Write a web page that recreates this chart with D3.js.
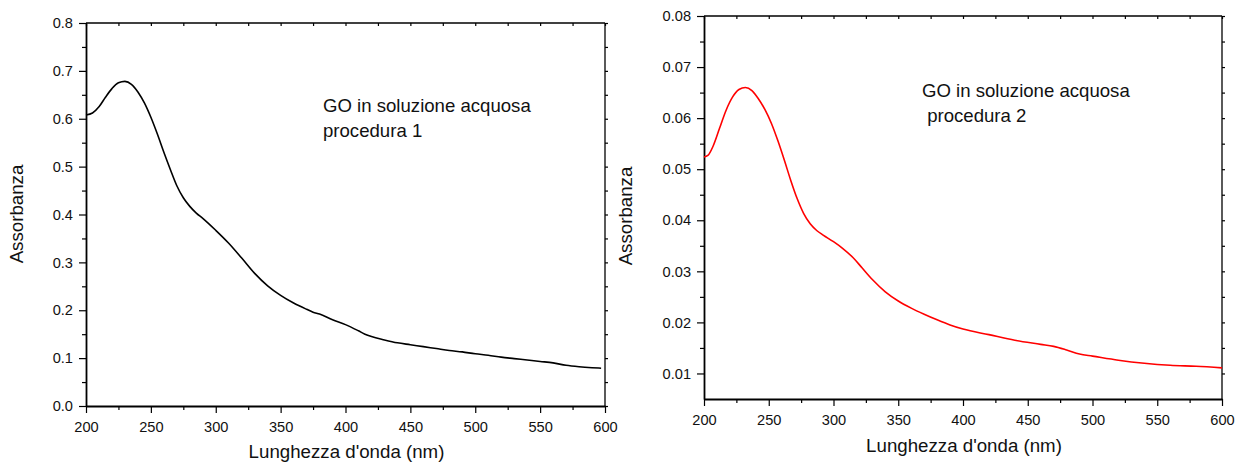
<!DOCTYPE html>
<html><head><meta charset="utf-8">
<script src="https://cdn.jsdelivr.net/npm/d3@7"></script>
<style>body{margin:0;background:#fff}svg{display:block;font-family:"Liberation Sans",Arial,sans-serif}</style>
</head><body><svg id="c" width="1238" height="463"></svg>
<script>
const wl1 = [200,205,210,215,220,225,230,235,240,245,250,255,260,265,270,275,280,285,290,300,310,320,330,340,350,360,370,375,380,390,400,410,415,420,430,440,450,460,470,480,490,500,510,520,530,540,550,560,570,580,590,597];
const abs1 = [0.608,0.612,0.625,0.645,0.663,0.675,0.678,0.672,0.656,0.633,0.603,0.568,0.530,0.494,0.460,0.435,0.417,0.403,0.392,0.367,0.340,0.309,0.277,0.251,0.231,0.215,0.202,0.196,0.192,0.180,0.170,0.157,0.150,0.145,0.138,0.132,0.128,0.124,0.120,0.116,0.113,0.109,0.106,0.102,0.099,0.096,0.093,0.090,0.085,0.082,0.080,0.079];
const wl2 = [200,203,207,212,217,222,227,232,237,242,247,252,257,262,267,272,277,282,287,292,300,307,315,322,330,340,350,360,370,380,390,400,420,440,460,470,480,490,500,520,540,560,580,600];
const abs2 = [0.0524,0.0527,0.0545,0.0580,0.0615,0.0641,0.0656,0.0660,0.0654,0.0638,0.0617,0.0590,0.0556,0.0518,0.0478,0.0442,0.0413,0.0393,0.0380,0.0371,0.0358,0.0345,0.0327,0.0307,0.0284,0.0260,0.0242,0.0228,0.0216,0.0205,0.0195,0.0187,0.0176,0.0165,0.0157,0.0153,0.0146,0.0138,0.0134,0.0126,0.0120,0.0116,0.0114,0.0111];
const xTicks = [200,250,300,350,400,450,500,550,600];
const yTicks1 = [0.0,0.1,0.2,0.3,0.4,0.5,0.6,0.7,0.8];
const yTicks2 = [0.01,0.02,0.03,0.04,0.05,0.06,0.07,0.08];
const xLabel = "Lunghezza d'onda (nm)";
const yLabel = "Assorbanza";
const note1 = ["GO in soluzione acquosa","procedura 1"];
const note2 = ["GO in soluzione acquosa"," procedura 2"];

const svg = d3.select("#c");
const FONT = "Liberation Sans, Arial, sans-serif";

function panel(o){
  const g = svg.append("g");
  const x = d3.scaleLinear().domain([200,600]).range([o.x0,o.x1]);
  const y = d3.scaleLinear().domain(o.yDom).range([o.y1,o.y0]);
  const minorX = d3.range(225,600,50);
  // top & right lines with small ticks
  g.append("line").attr("x1",o.x0).attr("x2",o.x1).attr("y1",o.y0).attr("y2",o.y0).attr("stroke","#000").attr("stroke-width",1.3);
  g.append("line").attr("x1",o.x1).attr("x2",o.x1).attr("y1",o.y0).attr("y2",o.y1).attr("stroke","#000").attr("stroke-width",1.3);
  const tx = g.append("g").attr("transform",`translate(0,${o.y0})`)
    .call(d3.axisBottom(x).tickValues(xTicks.concat(minorX)).tickFormat("").tickSize(3).tickSizeOuter(0));
  const ry = g.append("g").attr("transform",`translate(${o.x1},0)`)
    .call(d3.axisRight(y).tickValues(o.yTicks.concat(o.yMinor)).tickFormat("").tickSize(3).tickSizeOuter(0));
  tx.select(".domain").remove(); ry.select(".domain").remove();
  // bottom axis
  const bx = g.append("g").attr("transform",`translate(0,${o.y1})`)
    .call(d3.axisBottom(x).tickValues(xTicks).tickFormat(d3.format("d")).tickSize(7).tickSizeOuter(0));
  bx.append("g").call(d3.axisBottom(x).tickValues(minorX).tickFormat("").tickSize(4).tickSizeOuter(0))
    .select(".domain").remove();
  // left axis
  const ly = g.append("g").attr("transform",`translate(${o.x0},0)`)
    .call(d3.axisLeft(y).tickValues(o.yTicks).tickFormat(d3.format(o.fmt)).tickSize(7).tickSizeOuter(0));
  ly.append("g").call(d3.axisLeft(y).tickValues(o.yMinor).tickFormat("").tickSize(4).tickSizeOuter(0))
    .select(".domain").remove();
  g.selectAll(".domain").attr("stroke","#000").attr("stroke-width",1.8);
  g.selectAll(".tick line").attr("stroke","#000").attr("stroke-width",1.2);
  g.selectAll(".tick text").attr("font-size",14.6).attr("font-family",FONT).attr("fill","#111");
  bx.selectAll(".tick text").attr("y",25.7).attr("dy",0);
  ly.selectAll(".tick text").attr("x",-o.yLabPad);
  // line
  g.append("path").datum(o.wl.map((d,i)=>[d,o.ab[i]]))
    .attr("fill","none").attr("stroke",o.color).attr("stroke-width",1.6)
    .attr("d",d3.line().x(d=>x(d[0])).y(d=>y(d[1])).curve(d3.curveMonotoneX));
  // labels
  g.append("text").attr("x",(o.x0+o.x1)/2+1).attr("y",o.xlabY).attr("text-anchor","middle")
    .attr("font-size",18.7).attr("fill","#111").text(xLabel);
  g.append("text").attr("transform",`translate(${o.ylabX},${o.ylabY}) rotate(-90)`).attr("text-anchor","middle")
    .attr("font-size",18.7).attr("fill","#111").text(yLabel);
  o.note.forEach((t,i)=>{
    g.append("text").attr("x",o.noteX).attr("y",o.noteY+i*25).attr("font-size",18.6).attr("fill","#111")
      .style("white-space","pre").text(t);
  });
}

panel({x0:86,x1:605,y0:23,y1:406,yDom:[0,0.8],yTicks:yTicks1,yMinor:d3.range(0.05,0.8,0.1),fmt:".1f",yLabPad:13,
  wl:wl1,ab:abs1,color:"#000",xlabY:458,ylabX:23,ylabY:214,note:note1,noteX:323,noteY:111.7});
panel({x0:704,x1:1222,y0:16,y1:399,yDom:[0.005,0.08],yTicks:yTicks2,yMinor:d3.range(0.015,0.08,0.01),fmt:".2f",yLabPad:13,
  wl:wl2,ab:abs2,color:"#ff0000",xlabY:452,ylabX:632,ylabY:216,note:note2,noteX:922,noteY:96.7});
</script></body></html>
